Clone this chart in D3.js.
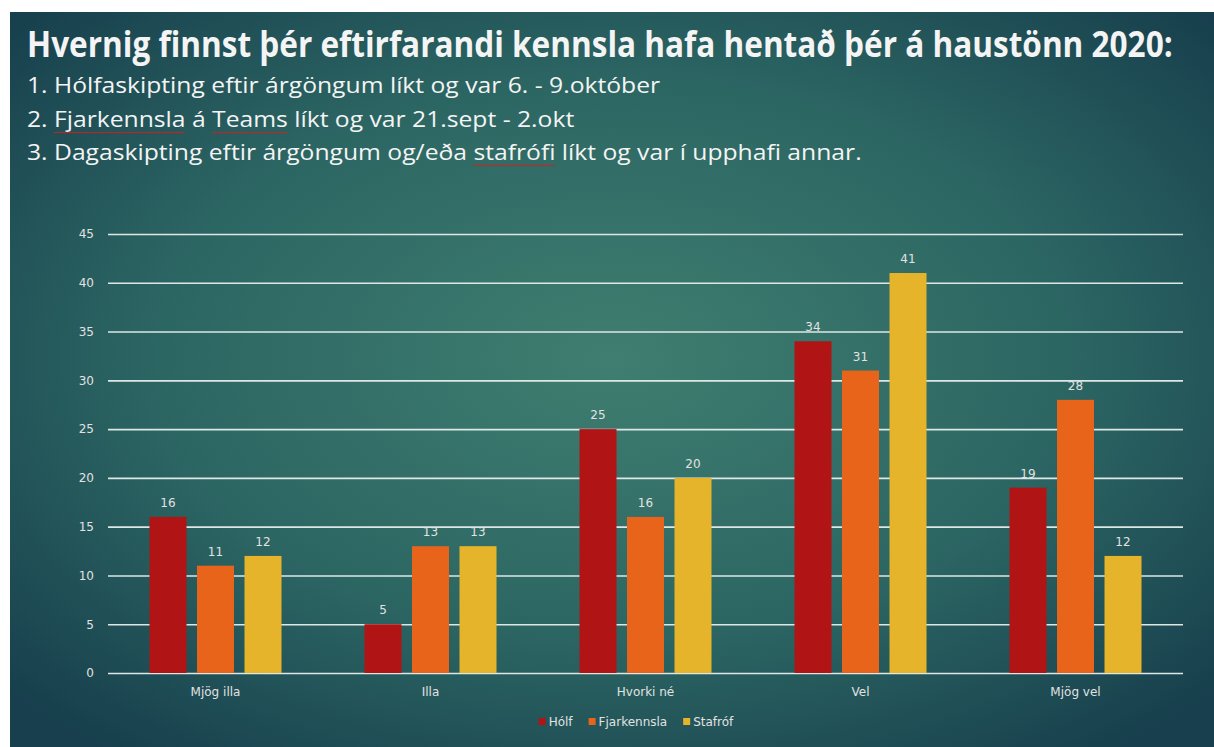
<!DOCTYPE html>
<html>
<head>
<meta charset="utf-8">
<script src="https://cdn.jsdelivr.net/npm/d3@7"></script>
<style>
  body { margin: 0; background: #ffffff; }
  svg { display: block; }
</style>
</head>
<body>
<svg id="chart" width="1214" height="747"></svg>
<script>
'use strict'
// gögn lesin af myndinni
var categories = ["Mjög illa", "Illa", "Hvorki né", "Vel", "Mjög vel"];
var seriesNames = ["Hólf", "Fjarkennsla", "Stafróf"];
var holfValues = [16, 5, 25, 34, 19];
var fjarkennslaValues = [11, 13, 16, 31, 28];
var stafrofValues = [12, 13, 20, 41, 12];
var yTicks = [0, 5, 10, 15, 20, 25, 30, 35, 40, 45];
var seriesColors = ["#b01414", "#e8641a", "#e6b42a"];

var titleText = "Hvernig finnst þér eftirfarandi kennsla hafa hentað þér á haustönn 2020:";
var subLines = [
    "1. Hólfaskipting eftir árgöngum líkt og var 6. - 9.október",
    "2. Fjarkennsla á Teams líkt og var 21.sept - 2.okt",
    "3. Dagaskipting eftir árgöngum og/eða stafrófi líkt og var í upphafi annar."
];
// orð með rauðri villulínu
var misspelled = [[], ["Fjarkennsla", "Teams"], ["stafrófi"]];

var allSeries = [holfValues, fjarkennslaValues, stafrofValues];
var W = 1214, H = 747;
var margin = { left: 108, right: 31, top: 234, bottom: 74 };

var svg = d3.select("#chart");

// bakgrunnur
var defs = svg.append("defs");
var grad = defs.append("radialGradient")
    .attr("id", "bg")
    .attr("cx", "0.5").attr("cy", "0.47").attr("r", "0.68");
grad.append("stop").attr("offset", "0").attr("stop-color", "#3f7e70");
grad.append("stop").attr("offset", "0.55").attr("stop-color", "#2c6663");
grad.append("stop").attr("offset", "1").attr("stop-color", "#173f4d");
svg.append("rect")
    .attr("x", 10).attr("y", 12)
    .attr("width", W - 10).attr("height", H - 12)
    .attr("fill", "url(#bg)");

// titill - Calibri er ekki til, svo letrið er þjappað lárétt
var titleFont = "'Open Sans', 'Noto Sans', sans-serif";

function squeezeText(txt, xPos, yPos, fs, weight, target) {
    var g = svg.append("g");
    var t = g.append("text")
        .attr("x", 0).attr("y", 0)
        .attr("fill", "#f4f4f4")
        .attr("font-family", titleFont)
        .attr("font-weight", weight)
        .attr("font-size", fs)
        .text(txt);
    var sx = target / t.node().getComputedTextLength();
    g.attr("transform", "translate(" + xPos + "," + yPos + ") scale(" + sx + ",1)");
    return { g: g, t: t, sx: sx };
}

squeezeText(titleText, 27, 57, 35, "bold", 1146);

var subWidths = [646, 510, 835];
var subY = [93, 127, 160];
var sxSub = null;
subLines.forEach(function (line, i) {
    var r = squeezeText(line, 27, subY[i], 21, "normal", subWidths[i]);
    // sama þjöppun á allar línur
    if (sxSub === null) {
        var probe = squeezeText(subLines[2], 0, 0, 21, "normal", subWidths[2]);
        sxSub = probe.sx;
        probe.g.remove();
    }
    r.g.attr("transform", "translate(27," + subY[i] + ") scale(" + sxSub + ",1)");
    misspelled[i].forEach(function (word) {
        var idx = line.indexOf(word);
        var node = r.t.node();
        var xs = node.getStartPositionOfChar(idx).x;
        var w = node.getSubStringLength(idx, word.length);
        var pts = [];
        for (var k = 0; k <= Math.floor(w * sxSub / 1.5); k++) {
            pts.push([xs + k * 1.5 / sxSub, 5 + (k % 2 ? 1 : 0)]);
        }
        r.g.append("path")
            .attr("d", d3.line()(pts))
            .attr("fill", "none")
            .attr("stroke", "#d42020")
            .attr("stroke-width", 0.9);
    });
});

// kvarðar
var x0 = d3.scaleBand()
    .domain(categories)
    .range([margin.left, W - margin.right])
    .paddingInner(0.386)
    .paddingOuter(0.193);
var x1 = d3.scaleBand()
    .domain(seriesNames)
    .range([0, x0.bandwidth()])
    .paddingInner(0.221);
var y = d3.scaleLinear()
    .domain([0, 45])
    .range([H - margin.bottom, margin.top]);

var axisFont = "'DejaVu Sans', sans-serif";
var labelColor = "#e2e2e2";
var labelSize = 12;

// y-ás
var yAxis = svg.append("g")
    .attr("transform", "translate(" + margin.left + ",0)")
    .call(d3.axisLeft(y).tickValues(yTicks).tickSize(-(W - margin.left - margin.right)).tickPadding(14));
yAxis.select(".domain").remove();
yAxis.selectAll(".tick line")
    .attr("stroke", "#dde8e6")
    .attr("stroke-width", 1.6);
yAxis.selectAll(".tick text")
    .attr("fill", labelColor)
    .attr("font-family", axisFont)
    .attr("font-size", labelSize);

// súlur
var groups = svg.append("g").selectAll("g")
    .data(categories)
    .enter().append("g")
    .attr("transform", function (d) { return "translate(" + x0(d) + ",0)"; });

groups.selectAll("rect")
    .data(function (d, i) {
        return seriesNames.map(function (s, j) { return { key: s, value: allSeries[j][i], color: seriesColors[j] }; });
    })
    .enter().append("rect")
    .attr("x", function (d) { return x1(d.key); })
    .attr("y", function (d) { return y(d.value); })
    .attr("width", x1.bandwidth())
    .attr("height", function (d) { return y(0) - y(d.value); })
    .attr("fill", function (d) { return d.color; });

groups.selectAll("text")
    .data(function (d, i) {
        return seriesNames.map(function (s, j) { return { key: s, value: allSeries[j][i] }; });
    })
    .enter().append("text")
    .attr("x", function (d) { return x1(d.key) + x1.bandwidth() / 2; })
    .attr("y", function (d) { return y(d.value) - 10; })
    .attr("text-anchor", "middle")
    .attr("fill", labelColor)
    .attr("font-family", axisFont)
    .attr("font-size", labelSize)
    .text(function (d) { return d.value; });

// x-ás
var xAxis = svg.append("g")
    .attr("transform", "translate(0," + y(0) + ")")
    .call(d3.axisBottom(x0).tickSize(0).tickPadding(14));
xAxis.select(".domain").remove();
xAxis.selectAll(".tick text")
    .attr("fill", labelColor)
    .attr("font-family", axisFont)
    .attr("font-size", labelSize);

// skýringar
var legend = svg.append("g").attr("transform", "translate(0,722)");
var items = legend.selectAll("g")
    .data(seriesNames)
    .enter().append("g");
items.append("rect")
    .attr("width", 7).attr("height", 7)
    .attr("y", -4)
    .attr("fill", function (d, i) { return seriesColors[i]; });
items.append("text")
    .attr("x", 10)
    .attr("y", 0)
    .attr("dy", "0.32em")
    .attr("fill", labelColor)
    .attr("font-family", axisFont)
    .attr("font-size", labelSize)
    .text(function (d) { return d; });
var offs = 0;
var positions = [];
items.each(function () {
    positions.push(offs);
    offs += 10 + d3.select(this).select("text").node().getComputedTextLength() + 16;
});
var totalW = offs - 16;
var startX = 636 - totalW / 2;
items.attr("transform", function (d, i) { return "translate(" + (startX + positions[i]) + ",0)"; });
</script>
</body>
</html>
